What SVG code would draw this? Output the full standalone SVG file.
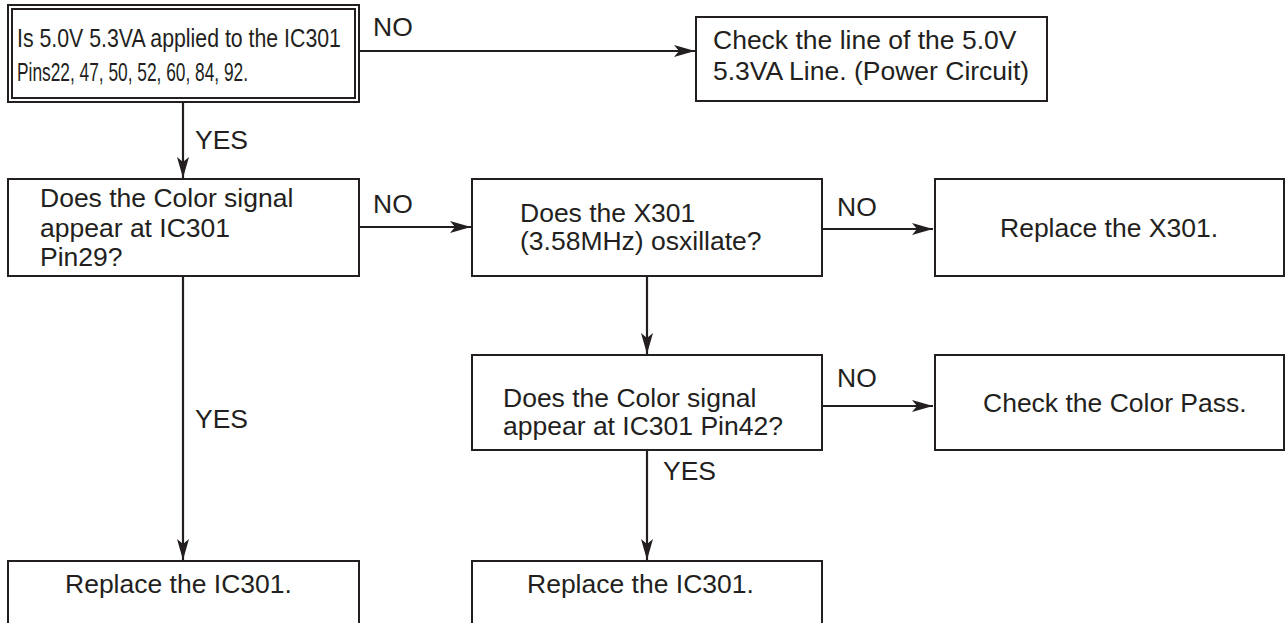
<svg xmlns="http://www.w3.org/2000/svg" width="1287" height="623" viewBox="0 0 1287 623">
<style>
.box{fill:#fff;stroke:#231f20;stroke-width:2}
.t{font-family:"Liberation Sans",Arial,sans-serif;font-size:26.5px;fill:#231f20}
.c{font-family:"Liberation Sans",Arial,sans-serif;font-size:21.3px;fill:#231f20}
.ln{fill:none;stroke:#231f20;stroke-width:2.2}
</style>
<defs>
<marker id="ah" markerUnits="userSpaceOnUse" markerWidth="24" markerHeight="16" viewBox="-22 -8 24 16" refX="0" refY="0" orient="auto">
<path d="M0,0 L-21,-6 L-16,0 L-21,6 Z" fill="#231f20"/>
</marker>
</defs>
<rect width="1287" height="623" fill="#fff"/>
<g id="connectors">
<path class="ln" d="M359,51 H695" marker-end="url(#ah)"/>
<text class="t" x="373" y="36">NO</text>
<path class="ln" d="M183,102 V178" marker-end="url(#ah)"/>
<text class="t" x="195" y="149">YES</text>
<path class="ln" d="M359,227 H471" marker-end="url(#ah)"/>
<text class="t" x="373" y="213">NO</text>
<path class="ln" d="M822,229 H933" marker-end="url(#ah)"/>
<text class="t" x="837" y="216">NO</text>
<path class="ln" d="M647,276 V354" marker-end="url(#ah)"/>
<path class="ln" d="M822,406 H933" marker-end="url(#ah)"/>
<text class="t" x="837" y="387">NO</text>
<path class="ln" d="M647,450 V560" marker-end="url(#ah)"/>
<text class="t" x="663" y="480">YES</text>
<path class="ln" d="M183,276 V560" marker-end="url(#ah)"/>
<text class="t" x="195" y="428">YES</text>
</g>
<g id="n1">
<rect class="box" x="8" y="5" width="351" height="97"/>
<rect class="box" x="12" y="9" width="343" height="89" stroke-width="1.5"/>
<text class="c" transform="translate(17,47) scale(1,1.17)" x="0" y="0">Is 5.0V 5.3VA applied to the IC301</text>
<text class="c" transform="translate(17,81) scale(1,1.17)" x="0" y="0" textLength="231" lengthAdjust="spacingAndGlyphs">Pins22, 47, 50, 52, 60, 84, 92.</text>
</g>
<g id="n2">
<rect class="box" x="696" y="17" width="351" height="84"/>
<text class="t" x="713" y="49">Check the line of the 5.0V</text>
<text class="t" x="713" y="80">5.3VA Line. (Power Circuit)</text>
</g>
<g id="n3">
<rect class="box" x="8" y="179" width="351" height="97"/>
<text class="t" x="40" y="207">Does the Color signal</text>
<text class="t" x="40" y="237">appear at IC301</text>
<text class="t" x="40" y="266">Pin29?</text>
</g>
<g id="n4">
<rect class="box" x="472" y="179" width="350" height="97"/>
<text class="t" x="520" y="222">Does the X301</text>
<text class="t" x="520" y="250">(3.58MHz) osxillate?</text>
</g>
<g id="n5">
<rect class="box" x="935" y="179" width="349" height="97"/>
<text class="t" x="1000" y="237">Replace the X301.</text>
</g>
<g id="n6">
<rect class="box" x="472" y="355" width="350" height="95"/>
<text class="t" x="503" y="407">Does the Color signal</text>
<text class="t" x="503" y="435">appear at IC301 Pin42?</text>
</g>
<g id="n7">
<rect class="box" x="935" y="355" width="349" height="95"/>
<text class="t" x="983" y="412">Check the Color Pass.</text>
</g>
<g id="n8">
<rect class="box" x="8" y="561" width="351" height="80"/>
<text class="t" x="65" y="593">Replace the IC301.</text>
</g>
<g id="n9">
<rect class="box" x="472" y="561" width="350" height="80"/>
<text class="t" x="527" y="593">Replace the IC301.</text>
</g>
</svg>
